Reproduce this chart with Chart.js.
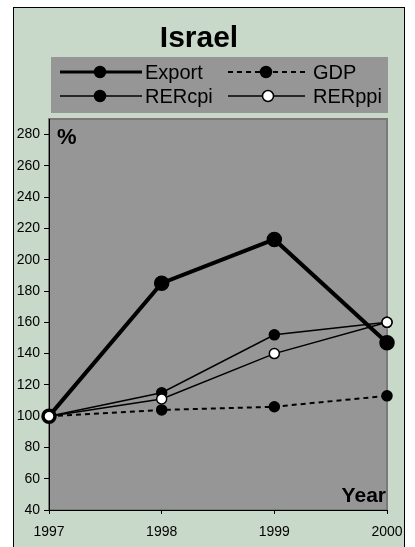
<!DOCTYPE html>
<html>
<head>
<meta charset="utf-8">
<style>
  html, body { margin: 0; padding: 0; background: #ffffff; }
  canvas { display: block; }
</style>
<script src="https://cdn.jsdelivr.net/npm/chart.js@4/dist/chart.umd.min.js"></script>
</head>
<body>
<canvas id="chart" width="415" height="547"></canvas>
<script>
// Index values, 1997 = 100
const years = ['1997', '1998', '1999', '2000'];
const exportIdx = [100, 185, 213, 147];
const gdpIdx = [100, 104, 106, 113];
const rerCpi = [100, 115, 152, 160];
const rerPpi = [100, 111, 140, 160];
const yTicks = [40, 60, 80, 100, 120, 140, 160, 180, 200, 220, 240, 260, 280];

const FONT = '"Liberation Sans", Arial, sans-serif';
const PAGE_BG = '#c9d9c9';
const PLOT_BG = '#969696';

const series = [
  { label: 'Export', data: exportIdx, width: 4, dash: [], radius: 7, fill: '#000000', order: 4 },
  { label: 'GDP', data: gdpIdx, width: 2, dash: [5, 4], radius: 5, fill: '#000000', order: 3 },
  { label: 'RERcpi', data: rerCpi, width: 1.5, dash: [], radius: 5, fill: '#000000', order: 2 },
  { label: 'RERppi', data: rerPpi, width: 1.5, dash: [], radius: 5, fill: '#ffffff', order: 1 }
];

// Frame, title, custom legend and axis captions
const decor = {
  id: 'decor',
  beforeDraw(chart) {
    const ctx = chart.ctx;
    const a = chart.chartArea;
    ctx.save();
    ctx.fillStyle = '#ffffff';
    ctx.fillRect(0, 0, chart.width, chart.height);
    ctx.fillStyle = PAGE_BG;
    ctx.fillRect(13.5, 7.5, 391, 560);
    ctx.strokeStyle = '#000000';
    ctx.lineWidth = 1;
    ctx.strokeRect(13.5, 7.5, 391, 560);
    ctx.fillStyle = PLOT_BG;
    ctx.fillRect(a.left, a.top, a.right - a.left, a.bottom - a.top);
    ctx.strokeStyle = '#7a7a7a';
    ctx.lineWidth = 2;
    ctx.strokeRect(a.left, a.top, a.right - a.left, a.bottom - a.top);
    ctx.restore();
  },
  afterDraw(chart) {
    const ctx = chart.ctx;
    const a = chart.chartArea;
    ctx.save();
    // title
    ctx.fillStyle = '#000000';
    ctx.textAlign = 'center';
    ctx.textBaseline = 'alphabetic';
    ctx.font = 'bold 30px ' + FONT;
    ctx.fillText('Israel', 199, 47);

    // legend box
    ctx.fillStyle = PLOT_BG;
    ctx.fillRect(51, 57, 337, 56);
    const slots = [
      { x0: 60, x1: 142, mx: 100, tx: 145, y: 72 },
      { x0: 228, x1: 305, mx: 266, tx: 313, y: 72 },
      { x0: 60, x1: 142, mx: 100, tx: 145, y: 96 },
      { x0: 228, x1: 305, mx: 268, tx: 313, y: 96 }
    ];
    chart.data.datasets.forEach((ds, i) => {
      const s = slots[i];
      ctx.strokeStyle = '#000000';
      ctx.lineWidth = Math.min(ds.borderWidth, 3);
      ctx.setLineDash(ds.borderDash || []);
      ctx.beginPath();
      ctx.moveTo(s.x0, s.y);
      ctx.lineTo(s.x1, s.y);
      ctx.stroke();
      ctx.setLineDash([]);
      ctx.beginPath();
      ctx.arc(s.mx, s.y, 5.5, 0, Math.PI * 2);
      ctx.fillStyle = ds.pointBackgroundColor;
      ctx.fill();
      ctx.lineWidth = 1.5;
      ctx.stroke();
      ctx.fillStyle = '#000000';
      ctx.textAlign = 'left';
      ctx.textBaseline = 'middle';
      ctx.font = '20px ' + FONT;
      ctx.fillText(ds.label, s.tx, s.y + 1);
    });

    // axis captions
    ctx.fillStyle = '#000000';
    ctx.textBaseline = 'alphabetic';
    ctx.font = 'bold 22px ' + FONT;
    ctx.textAlign = 'left';
    ctx.fillText('%', a.left + 8, a.top + 25);
    ctx.font = 'bold 21px ' + FONT;
    ctx.textAlign = 'right';
    ctx.fillText('Year', a.right - 1, a.bottom - 8);
    ctx.restore();
  }
};

new Chart(document.getElementById('chart'), {
  type: 'line',
  data: {
    labels: years,
    datasets: series.map(s => ({
      label: s.label,
      data: s.data,
      order: s.order,
      borderColor: '#000000',
      borderWidth: s.width,
      borderDash: s.dash,
      tension: 0,
      fill: false,
      pointRadius: s.radius,
      pointHoverRadius: s.radius,
      pointBackgroundColor: s.fill,
      pointBorderColor: '#000000',
      pointBorderWidth: 1.5
    }))
  },
  options: {
    responsive: false,
    devicePixelRatio: 1,
    animation: false,
    events: [],
    layout: { padding: { top: 119, right: 28, left: 0, bottom: 0 } },
    plugins: {
      legend: { display: false },
      title: { display: false },
      tooltip: { enabled: false }
    },
    scales: {
      x: {
        type: 'category',
        offset: false,
        afterFit(scale) { scale.height = 37; },
        grid: { display: true, drawOnChartArea: false, drawTicks: true, tickLength: 4, color: '#000000' },
        border: { display: true, color: '#000000', width: 1 },
        ticks: { color: '#000000', font: { family: FONT, size: 14 }, padding: 10, maxRotation: 0, autoSkip: false }
      },
      y: {
        min: 40,
        max: 290,
        afterBuildTicks(scale) { scale.ticks = yTicks.map(v => ({ value: v })); },
        afterFit(scale) { scale.width = 49; },
        grid: { display: true, drawOnChartArea: false, drawTicks: true, tickLength: 5, color: '#000000' },
        border: { display: true, color: '#000000', width: 1 },
        ticks: { color: '#000000', font: { family: FONT, size: 14 }, padding: 4 }
      }
    }
  },
  plugins: [decor]
});
</script>
</body>
</html>
